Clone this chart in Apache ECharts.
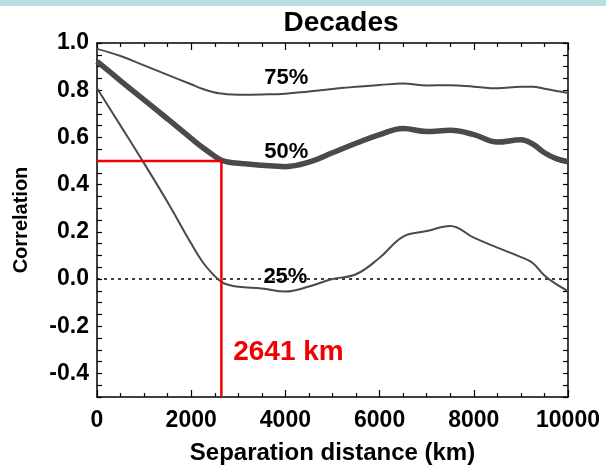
<!DOCTYPE html>
<html>
<head>
<meta charset="utf-8">
<script src="https://cdn.jsdelivr.net/npm/echarts@6/dist/echarts.min.js"></script>
<style>
  html, body { margin: 0; padding: 0; background: #fff; overflow: hidden; }
  #band { position: absolute; left: 0; top: 0; width: 606px; height: 6px; background: #b8dde2; }
  #chart { width: 606px; height: 470px; }
</style>
</head>
<body>
<div id="band"></div>
<div id="chart"></div>
<script>
// Separation distance (km) at which each percentile curve is sampled
const distances = [0, 500, 1000, 1500, 2000, 2250, 2500, 2641, 2750, 3000, 3500, 4000, 4500,
  5000, 5500, 6000, 6500, 7000, 7500, 8000, 8500, 9000, 9250, 9500, 9750, 10000];

// Correlation percentiles
const p75 = [0.975, 0.945, 0.905, 0.865, 0.825, 0.805, 0.790, 0.786, 0.783, 0.781, 0.782, 0.785, 0.795,
  0.805, 0.815, 0.822, 0.828, 0.820, 0.821, 0.815, 0.808, 0.815, 0.815, 0.806, 0.797, 0.788];
const p50 = [0.922, 0.840, 0.759, 0.678, 0.596, 0.556, 0.520, 0.503, 0.497, 0.490, 0.482, 0.476, 0.495,
  0.535, 0.575, 0.612, 0.638, 0.625, 0.630, 0.612, 0.580, 0.590, 0.572, 0.535, 0.510, 0.497];
const p25 = [0.808, 0.650, 0.490, 0.325, 0.150, 0.070, 0.012, -0.012, -0.022, -0.033, -0.040, -0.053, -0.032,
  0.000, 0.020, 0.090, 0.180, 0.203, 0.225, 0.175, 0.133, 0.093, 0.068, 0.015, -0.022, -0.051];

const curveNames = ['75%', '50%', '25%'];

// Decorrelation marker: distance where the median drops to 0.5
const markerDistance = 2641;
const markerCorr = 0.5;

const xMin = 0, xMax = 10000;
const yMin = -0.5, yMax = 1.0;

const FONT = '"Liberation Sans", Arial, Helvetica, sans-serif';
const pair = (ys) => distances.map((d, i) => [d, ys[i]]);

const chart = echarts.init(document.getElementById('chart'), null, { renderer: 'canvas' });

const baseX = {
  type: 'value', min: xMin, max: xMax, interval: 2000,
  splitLine: { show: false },
  axisLine: { show: true, onZero: false, lineStyle: { color: '#000', width: 1.5 } },
  axisTick: { show: true, inside: true, length: 7, lineStyle: { color: '#000', width: 1.2 } },
  minorTick: { show: true, splitNumber: 4, length: 4, lineStyle: { color: '#000', width: 1.2 } }
};
const baseY = {
  type: 'value', min: yMin, max: yMax, interval: 0.05,
  splitLine: { show: false },
  axisLine: { show: true, onZero: false, lineStyle: { color: '#000', width: 1.5 } },
  axisTick: { show: true, inside: true, length: 5, lineStyle: { color: '#000', width: 1.2 } }
};
const isMajorY = (v) => Math.abs(v / 0.2 - Math.round(v / 0.2)) < 1e-6;

const labelStyle = { color: '#000', fontFamily: FONT, fontWeight: 'bold', fontSize: 22, textBorderWidth: 0 };

chart.setOption({
  animation: false,
  title: {
    text: 'Decades', left: 336, top: 4, textAlign: 'center',
    textStyle: { color: '#000', fontFamily: FONT, fontWeight: 'bold', fontSize: 28 }
  },
  grid: { left: 97, right: 38, top: 43, bottom: 66 },
  xAxis: [
    Object.assign({}, baseX, {
      position: 'bottom',
      name: 'Separation distance (km)', nameLocation: 'middle', nameGap: 44,
      nameTextStyle: { color: '#000', fontFamily: FONT, fontWeight: 'bold', fontSize: 24 },
      axisLabel: {
        margin: 12, color: '#000', fontFamily: FONT, fontWeight: 'bold', fontSize: 23,
        formatter: (v) => String(v)
      }
    }),
    Object.assign({}, baseX, { position: 'top', axisLabel: { show: false } })
  ],
  yAxis: [
    Object.assign({}, baseY, {
      position: 'left',
      name: 'Correlation', nameLocation: 'middle', nameGap: 66, nameRotate: 90,
      nameTextStyle: { color: '#000', fontFamily: FONT, fontWeight: 'bold', fontSize: 20 },
      axisLabel: {
        margin: 8, color: '#000', fontFamily: FONT, fontWeight: 'bold', fontSize: 23,
        formatter: (v) => isMajorY(v) ? (Math.abs(v) < 1e-9 ? '0.0' : v.toFixed(1)) : ''
      }
    }),
    Object.assign({}, baseY, { position: 'right', axisLabel: { show: false } })
  ],
  series: [
    {
      type: 'line', data: [[xMin, 0], [xMax, 0]], symbol: 'none', silent: true,
      lineStyle: { color: '#000', width: 1.3, type: [3, 4] }
    },
    {
      name: curveNames[0], type: 'line', data: pair(p75), smooth: 0.4, symbol: 'none',
      lineStyle: { color: '#4a4a4a', width: 2 }
    },
    {
      name: curveNames[1], type: 'line', data: pair(p50), smooth: 0.4, symbol: 'none',
      lineStyle: { color: '#4a4a4a', width: 5.5 }
    },
    {
      name: curveNames[2], type: 'line', data: pair(p25), smooth: 0.4, symbol: 'none',
      lineStyle: { color: '#4a4a4a', width: 2 }
    },
    {
      type: 'line', symbol: 'none', silent: true,
      data: [[xMin, markerCorr], [markerDistance, markerCorr], [markerDistance, yMin]],
      lineStyle: { color: '#f00000', width: 2.5 }
    },
    {
      type: 'scatter', symbolSize: 0, silent: true,
      itemStyle: { opacity: 1 },
      data: [
        { value: [4020, 0.85], label: { formatter: curveNames[0] } },
        { value: [4020, 0.54], label: { formatter: curveNames[1] } },
        { value: [4000, 0.008], label: { formatter: curveNames[2] } },
        {
          value: [markerDistance + 250, -0.31],
          label: {
            formatter: markerDistance + ' km', align: 'left', color: '#f00000', fontSize: 28
          }
        }
      ],
      label: Object.assign({ show: true, position: 'inside', align: 'center' }, labelStyle)
    }
  ]
});
</script>
</body>
</html>
